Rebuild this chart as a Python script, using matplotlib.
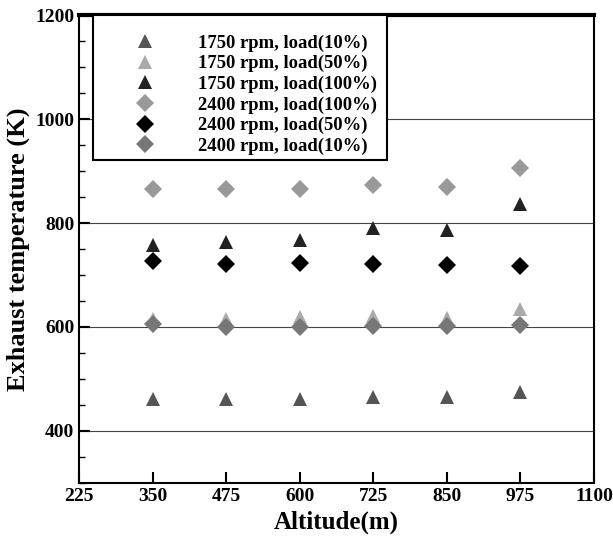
import matplotlib.pyplot as plt
from matplotlib.ticker import MultipleLocator
from matplotlib.patches import Rectangle

plt.rcParams['font.family'] = ['Liberation Serif', 'DejaVu Serif']
plt.rcParams['font.weight'] = 'bold'

altitude = [350, 475, 600, 725, 850, 975]
x_ticks = [225, 350, 475, 600, 725, 850, 975, 1100]

rpm1750_load10 = [462, 462, 462, 465, 466, 475]
rpm1750_load50 = [615, 615, 620, 622, 618, 635]
rpm1750_load100 = [757, 763, 767, 791, 787, 837]
rpm2400_load100 = [865, 865, 866, 874, 869, 905]
rpm2400_load50 = [727, 721, 723, 722, 720, 718]
rpm2400_load10 = [605, 600, 600, 601, 601, 603]

series = [
    ('1750 rpm, load(10%)', rpm1750_load10, '^', '#555555'),
    ('1750 rpm, load(50%)', rpm1750_load50, '^', '#aaaaaa'),
    ('1750 rpm, load(100%)', rpm1750_load100, '^', '#222222'),
    ('2400 rpm, load(100%)', rpm2400_load100, 'D', '#999999'),
    ('2400 rpm, load(50%)', rpm2400_load50, 'D', '#000000'),
    ('2400 rpm, load(10%)', rpm2400_load10, 'D', '#777777'),
]

fig = plt.figure(figsize=(6.13, 5.39), dpi=100)
ax = fig.add_axes([0.129, 0.104, 0.840, 0.868])

for label, vals, m, c in series:
    size = 10.5 if m == '^' else 9
    ax.plot(altitude, vals, linestyle='none', marker=m, color=c,
            markersize=size, markeredgewidth=0, label=label, zorder=3)

ax.set_xlim(225, 1100)
ax.set_ylim(300, 1200)
ax.set_xticks(x_ticks)
ax.yaxis.set_major_locator(MultipleLocator(200))
ax.yaxis.set_minor_locator(MultipleLocator(50))

for y in [400, 600, 800, 1000]:
    ax.axhline(y, color='#444444', lw=0.8, zorder=1)

ax.tick_params(axis='both', which='major', direction='in', length=8, width=1.5,
               labelsize=14)
ax.tick_params(axis='y', which='minor', direction='in', length=4, width=1.0)
ax.tick_params(top=False, right=False)
for lab in ax.get_xticklabels() + ax.get_yticklabels():
    lab.set_fontweight('bold')

for side in ['left', 'bottom', 'right']:
    ax.spines[side].set_linewidth(1.5)
ax.spines['top'].set_linewidth(3)

ax.set_xlabel('Altitude(m)', fontsize=18, fontweight='bold', labelpad=4)
ax.set_ylabel('Exhaust temperature (K)', fontsize=19, fontweight='bold', labelpad=4)

# legend box drawn separately so its padding matches the original
leg = ax.legend(loc='upper left', bbox_to_anchor=(0.092, 0.959), fontsize=13.4,
                frameon=False, borderpad=0, handletextpad=1.86,
                labelspacing=0.18, handlelength=2.0, borderaxespad=0)
leg.set_zorder(6)
for t in leg.get_texts():
    t.set_fontweight('bold')
ax.add_patch(Rectangle((0.027, 0.69), 0.571, 0.31, transform=ax.transAxes,
                       facecolor='white', edgecolor='black', lw=1.5,
                       zorder=5, clip_on=False))

fig.savefig('out.png', dpi=100)
